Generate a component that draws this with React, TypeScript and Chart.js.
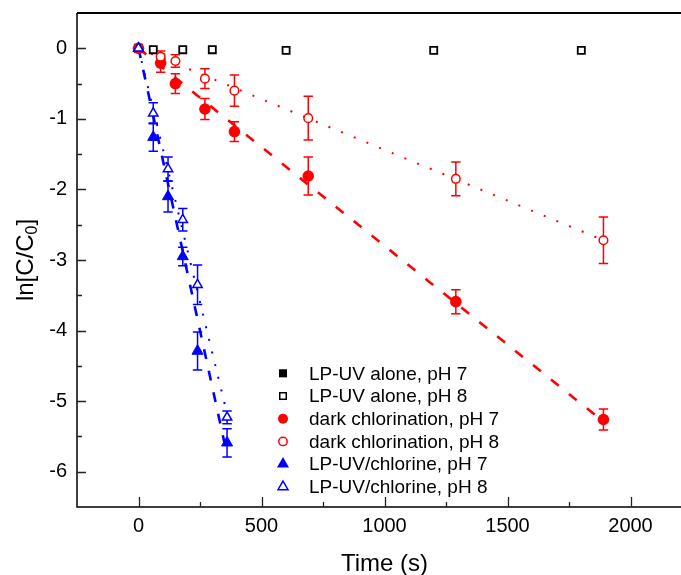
import React, { useEffect, useRef } from 'react';
import { Chart, registerables } from 'chart.js';

Chart.register(...registerables);

const FONT = '"Liberation Sans", Arial, Helvetica, sans-serif';
const RED = '#ff0000';
const BLUE = '#0000ff';

// ---- data ----
const uvAloneTimes = [0, 60, 180, 300, 600, 1200, 1800];
const uvAlonePH7: number[] = [];
const uvAlonePH8 = [0, -0.02, -0.02, -0.02, -0.03, -0.03, -0.03];

const chlorTimes = [0, 90, 150, 270, 390, 690, 1290, 1890];
const darkPH7 = [0, -0.21, -0.5, -0.86, -1.18, -1.81, -3.59, -5.26];
const darkPH7Err = [0, 0.13, 0.14, 0.15, 0.14, 0.27, 0.17, 0.15];
const darkPH8 = [0, -0.12, -0.18, -0.43, -0.6, -0.99, -1.85, -2.72];
const darkPH8Err = [0, 0.08, 0.09, 0.14, 0.22, 0.31, 0.24, 0.33];

const uvClTimes = [0, 60, 120, 180, 240, 360];
const uvClPH7 = [0, -1.26, -2.1, -2.95, -4.29, -5.59];
const uvClPH7Err = [0, 0.2, 0.22, 0.13, 0.27, 0.2];
const uvClPH8 = [0, -0.92, -1.71, -2.43, -3.35, -5.23];
const uvClPH8Err = [0, 0.15, 0.17, 0.16, 0.28, 0.09];

const fitDarkPH7T = [0, 1890];
const fitDarkPH7V = [0, -5.29];
const fitDarkPH8T = [0, 1890];
const fitDarkPH8V = [0, -2.72];
const fitUvClPH7T = [0, 355];
const fitUvClPH7V = [0, -5.68];
const fitUvClPH8T = [0, 360];
const fitUvClPH8V = [0, -5.18];

const xMin = -250;
const xMax = 2250;
const xStep = 250;
const xLabelStep = 500;
const yMin = -6.5;
const yMax = 0.5;
const yStep = 0.5;

const xTitle = 'Time (s)';
const yTitleMain = 'ln[C/C';
const yTitleSub = '0';
const yTitleEnd = ']';

const legendLabels = [
  'LP-UV alone, pH 7',
  'LP-UV alone, pH 8',
  'dark chlorination, pH 7',
  'dark chlorination, pH 8',
  'LP-UV/chlorine, pH 7',
  'LP-UV/chlorine, pH 8',
];

const xy = (t: number[], v: number[]) => t.map((x, i) => ({ x, y: v[i] }));

function drawMarker(
  ctx: CanvasRenderingContext2D,
  style: string,
  x: number,
  y: number,
  r: number,
  fill: string,
  stroke: string,
  bw: number
) {
  ctx.beginPath();
  if (style === 'rect') {
    const s = Math.SQRT1_2 * r;
    ctx.rect(x - s, y - s, 2 * s, 2 * s);
  } else if (style === 'circle') {
    ctx.arc(x, y, r, 0, Math.PI * 2);
  } else {
    ctx.moveTo(x, y - r);
    ctx.lineTo(x + 0.866 * r, y + 0.5 * r);
    ctx.lineTo(x - 0.866 * r, y + 0.5 * r);
    ctx.closePath();
  }
  ctx.fillStyle = fill;
  ctx.fill();
  if (bw > 0) {
    ctx.lineWidth = bw;
    ctx.strokeStyle = stroke;
    ctx.stroke();
  }
}

const legendMarkers = [
  { style: 'rect', r: 5.7, fill: '#000', stroke: '#000', bw: 0 },
  { style: 'rect', r: 4.6, fill: '#fff', stroke: '#000', bw: 1.5 },
  { style: 'circle', r: 5, fill: RED, stroke: RED, bw: 0 },
  { style: 'circle', r: 4.2, fill: '#fff', stroke: RED, bw: 1.5 },
  { style: 'triangle', r: 7, fill: BLUE, stroke: BLUE, bw: 0 },
  { style: 'triangle', r: 5.8, fill: '#fff', stroke: BLUE, bw: 1.5 },
];

export default function App() {
  const ref = useRef<HTMLCanvasElement | null>(null);

  useEffect(() => {
    if (!ref.current) return;

    const errorSpecs = [
      { t: chlorTimes, v: darkPH7, e: darkPH7Err, color: RED },
      { t: chlorTimes, v: darkPH8, e: darkPH8Err, color: RED },
      { t: uvClTimes, v: uvClPH7, e: uvClPH7Err, color: BLUE },
      { t: uvClTimes, v: uvClPH8, e: uvClPH8Err, color: BLUE },
    ];

    const errorBars = {
      id: 'errorBars',
      beforeDatasetsDraw(chart: any) {
        const { ctx, scales } = chart;
        const xs = scales.x;
        const ys = scales.y;
        ctx.save();
        ctx.lineWidth = 1.5;
        for (const s of errorSpecs) {
          ctx.strokeStyle = s.color;
          s.t.forEach((t, i) => {
            const e = s.e[i];
            if (!e) return;
            const px = xs.getPixelForValue(t);
            const top = ys.getPixelForValue(s.v[i] + e);
            const bot = ys.getPixelForValue(s.v[i] - e);
            ctx.beginPath();
            ctx.moveTo(px, top);
            ctx.lineTo(px, bot);
            ctx.moveTo(px - 4.7, top);
            ctx.lineTo(px + 4.7, top);
            ctx.moveTo(px - 4.7, bot);
            ctx.lineTo(px + 4.7, bot);
            ctx.stroke();
          });
        }
        ctx.restore();
      },
    };

    const frame = {
      id: 'frame',
      afterDraw(chart: any) {
        const { ctx, chartArea, scales } = chart;
        const { left, right, top, bottom } = chartArea;
        const xs = scales.x;
        const ys = scales.y;
        ctx.save();
        ctx.strokeStyle = '#000';
        ctx.lineWidth = 1.5;
        ctx.beginPath();
        ctx.moveTo(left, top);
        ctx.lineTo(left, bottom);
        ctx.lineTo(right, bottom);
        ctx.stroke();
        ctx.lineWidth = 2;
        ctx.beginPath();
        ctx.moveTo(left, top);
        ctx.lineTo(right, top);
        ctx.stroke();
        // inward ticks
        ctx.lineWidth = 1.3;
        ctx.strokeStyle = '#222';
        ctx.beginPath();
        for (let v = xMin + xStep; v < xMax; v += xStep) {
          const px = Math.round(xs.getPixelForValue(v)) + 0.5;
          const len = v % xLabelStep === 0 ? 10 : 5;
          ctx.moveTo(px, bottom);
          ctx.lineTo(px, bottom - len);
        }
        for (let v = yMin + yStep; v < yMax - 1e-9; v += yStep) {
          const py = Math.round(ys.getPixelForValue(v)) + 0.5;
          const len = Math.abs(v - Math.round(v)) < 1e-9 ? 9 : 5;
          ctx.moveTo(left, py);
          ctx.lineTo(left + len, py);
        }
        ctx.stroke();

        // titles
        ctx.fillStyle = '#000';
        ctx.font = `24px ${FONT}`;
        ctx.textAlign = 'center';
        ctx.textBaseline = 'alphabetic';
        ctx.fillText(xTitle, (left + right) / 2, 571);

        ctx.save();
        ctx.translate(33, (top + bottom) / 2);
        ctx.rotate(-Math.PI / 2);
        ctx.textAlign = 'left';
        const mainFont = `24px ${FONT}`;
        const subFont = `16px ${FONT}`;
        ctx.font = mainFont;
        const w1 = ctx.measureText(yTitleMain).width;
        const w3 = ctx.measureText(yTitleEnd).width;
        ctx.font = subFont;
        const w2 = ctx.measureText(yTitleSub).width;
        let x0 = -(w1 + w2 + w3) / 2;
        ctx.font = mainFont;
        ctx.fillText(yTitleMain, x0, 0);
        x0 += w1;
        ctx.font = subFont;
        ctx.fillText(yTitleSub, x0, 4);
        x0 += w2;
        ctx.font = mainFont;
        ctx.fillText(yTitleEnd, x0, 0);
        ctx.restore();

        // legend
        ctx.font = `19px ${FONT}`;
        ctx.textAlign = 'left';
        ctx.textBaseline = 'middle';
        legendLabels.forEach((lab, i) => {
          const y = 373.3 + i * 22.7;
          const m = legendMarkers[i];
          drawMarker(ctx, m.style, 283, y, m.r, m.fill, m.stroke, m.bw);
          ctx.fillStyle = '#000';
          ctx.fillText(lab, 309, y + 1);
        });
        ctx.restore();
      },
    };

    const fitLine = (t: number[], v: number[], color: string, dash: number[], w: number) => ({
      type: 'line' as const,
      data: xy(t, v),
      borderColor: color,
      borderWidth: w,
      borderDash: dash,
      pointRadius: 0,
      showLine: true,
      fill: false,
      order: 10,
    });

    const zeroPad = (s: any) => {
      s.paddingTop = 0;
      s.paddingBottom = 0;
      s.paddingLeft = 0;
      s.paddingRight = 0;
    };

    const chart = new Chart(ref.current, {
      type: 'scatter',
      data: {
        datasets: [
          fitLine(fitDarkPH7T, fitDarkPH7V, RED, [10, 13], 2.6),
          fitLine(fitDarkPH8T, fitDarkPH8V, RED, [2, 11.7], 2),
          fitLine(fitUvClPH7T, fitUvClPH7V, BLUE, [10, 12], 2.6),
          fitLine(fitUvClPH8T, fitUvClPH8V, BLUE, [2, 11], 2),
          {
            label: legendLabels[0],
            data: xy(uvAloneTimes, uvAlonePH7),
            pointStyle: 'rect',
            pointRadius: 6,
            backgroundColor: '#000',
            borderColor: '#000',
            borderWidth: 0,
            order: 6,
          },
          {
            label: legendLabels[1],
            data: xy(uvAloneTimes, uvAlonePH8),
            pointStyle: 'rect',
            pointRadius: 5,
            backgroundColor: '#fff',
            borderColor: '#000',
            borderWidth: 1.8,
            order: 5,
          },
          {
            label: legendLabels[2],
            data: xy(chlorTimes, darkPH7),
            pointStyle: 'circle',
            pointRadius: 5.8,
            backgroundColor: RED,
            borderColor: RED,
            borderWidth: 0,
            order: 4,
          },
          {
            label: legendLabels[3],
            data: xy(chlorTimes, darkPH8),
            pointStyle: 'circle',
            pointRadius: 4.3,
            backgroundColor: '#fff',
            borderColor: RED,
            borderWidth: 1.5,
            order: 3,
          },
          {
            label: legendLabels[4],
            data: xy(uvClTimes, uvClPH7),
            pointStyle: 'triangle',
            pointRadius: 6.4,
            backgroundColor: BLUE,
            borderColor: BLUE,
            borderWidth: 1,
            order: 2,
          },
          {
            label: legendLabels[5],
            data: xy(uvClTimes, uvClPH8),
            pointStyle: 'triangle',
            pointRadius: 5.4,
            backgroundColor: '#fff',
            borderColor: BLUE,
            borderWidth: 1.5,
            order: 1,
          },
        ] as any,
      },
      options: {
        animation: false,
        responsive: false,
        devicePixelRatio: 1,
        layout: { padding: { top: 13, right: 8, left: 0, bottom: 0 } },
        plugins: {
          legend: { display: false },
          tooltip: { enabled: false },
          title: { display: false },
        },
        scales: {
          x: {
            type: 'linear',
            min: xMin,
            max: xMax,
            grid: { display: false, drawTicks: false },
            border: { display: false },
            ticks: {
              stepSize: xStep,
              autoSkip: false,
              maxRotation: 0,
              padding: 7,
              color: '#000',
              font: { family: FONT, size: 20 },
              callback: (v: any) => (Number(v) % xLabelStep === 0 ? String(v) : ''),
            },
            afterFit: (s: any) => {
              s.height = 68;
              zeroPad(s);
            },
          },
          y: {
            type: 'linear',
            min: yMin,
            max: yMax,
            grid: { display: false, drawTicks: false },
            border: { display: false },
            ticks: {
              stepSize: yStep,
              autoSkip: false,
              padding: 10,
              color: '#000',
              font: { family: FONT, size: 20 },
              callback: (v: any) => {
                const n = Number(v);
                return Math.abs(n - Math.round(n)) < 1e-9 ? String(Math.round(n)) : '';
              },
            },
            afterFit: (s: any) => {
              s.width = 77;
              zeroPad(s);
            },
          },
        },
      } as any,
      plugins: [errorBars, frame],
    });

    return () => chart.destroy();
  }, []);

  return (
    <div
      style={{
        position: 'fixed',
        left: 0,
        top: 0,
        width: 681,
        height: 575,
        overflow: 'hidden',
        background: '#fff',
      }}
    >
      <canvas ref={ref} width={700} height={575} style={{ display: 'block' }} />
    </div>
  );
}
